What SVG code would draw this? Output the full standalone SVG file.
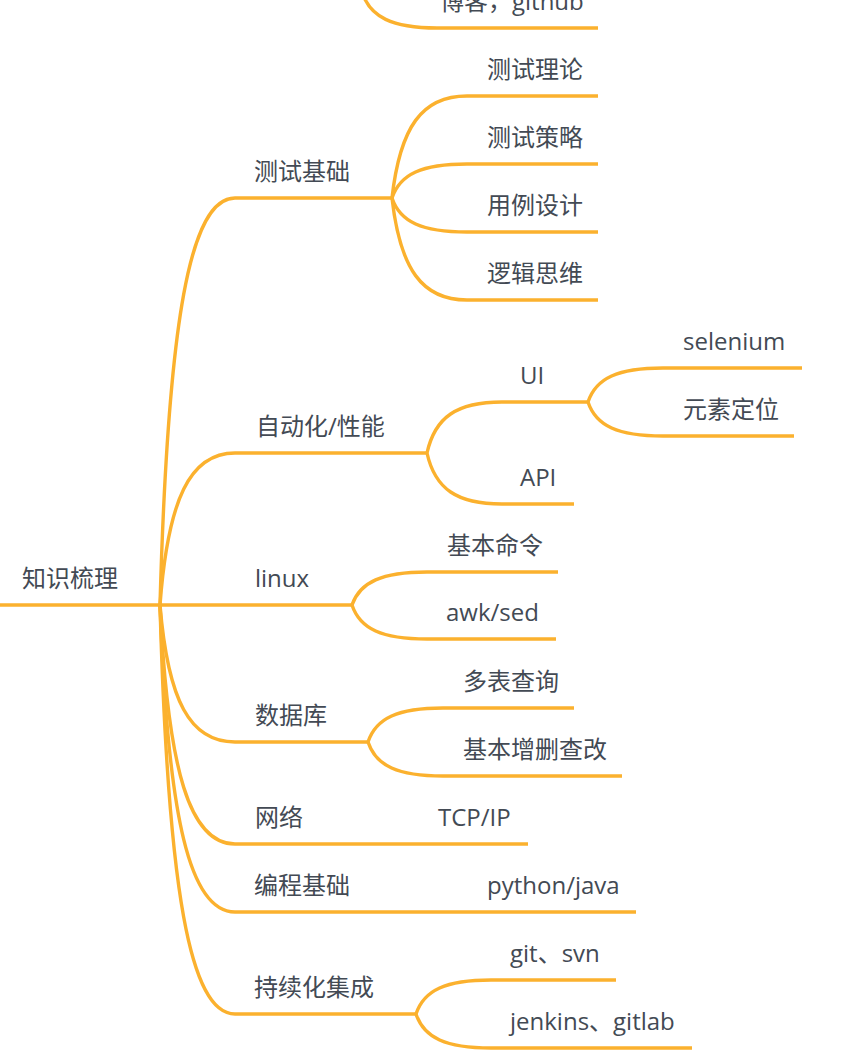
<svg xmlns="http://www.w3.org/2000/svg" width="864" height="1050" viewBox="0 0 864 1050">
<style>
  .ln { fill: none; stroke: #FBB12E; stroke-width: 3.4; }
  .t { font-family: "Open Sans", "Noto Sans CJK SC", sans-serif; font-size: 24px; fill: #434A54; }
</style>
<rect width="864" height="1050" fill="#FFFFFF"/>
<g id="connectors">
  <path class="ln" d="M362,-8 C370,17 392,28 437,28 H598"/>
  <path class="ln" d="M0,605 H352"/>
  <path class="ln" d="M160,605 C168,320 190,198 235,198 H392"/>
  <path class="ln" d="M160,605 C168,499 190,453 235,453 H427"/>
  <path class="ln" d="M160,605 C168,701 190,742 235,742 H368"/>
  <path class="ln" d="M160,605 C168,772 190,844 235,844 H528"/>
  <path class="ln" d="M160,605 C168,820 190,912 235,912 H636"/>
  <path class="ln" d="M160,605 C168,891 190,1014 235,1014 H416"/>
  <path class="ln" d="M392,198 C400,127 422,96 467,96 H598"/>
  <path class="ln" d="M392,198 C400,174 422,164 467,164 H598"/>
  <path class="ln" d="M392,198 C400,222 422,232 467,232 H598"/>
  <path class="ln" d="M392,198 C400,269 422,300 467,300 H598"/>
  <path class="ln" d="M427,453 C435,417 457,402 502,402 H588"/>
  <path class="ln" d="M427,453 C435,489 457,504 502,504 H574"/>
  <path class="ln" d="M588,402 C596,378 618,368 663,368 H802"/>
  <path class="ln" d="M588,402 C596,426 618,436 663,436 H794"/>
  <path class="ln" d="M352,605 C360,582 382,572 427,572 H558"/>
  <path class="ln" d="M352,605 C360,629 382,639 427,639 H556"/>
  <path class="ln" d="M368,742 C376,718 398,708 443,708 H574"/>
  <path class="ln" d="M368,742 C376,766 398,776 443,776 H622"/>
  <path class="ln" d="M416,1014 C424,990 446,980 491,980 H616"/>
  <path class="ln" d="M416,1014 C424,1038 446,1048 491,1048 H692"/>
</g>
<g id="node-blog"><text class="t" x="440" y="10">博客，github</text></g>
<g id="node-root"><text class="t" x="22" y="587">知识梳理</text></g>
<g id="node-test-basics"><text class="t" x="254" y="180">测试基础</text></g>
<g id="node-theory"><text class="t" x="487" y="78">测试理论</text></g>
<g id="node-strategy"><text class="t" x="487" y="146">测试策略</text></g>
<g id="node-case-design"><text class="t" x="487" y="214">用例设计</text></g>
<g id="node-logic"><text class="t" x="487" y="282">逻辑思维</text></g>
<g id="node-automation"><text class="t" x="256" y="435">自动化/性能</text></g>
<g id="node-ui"><text class="t" x="520" y="384">UI</text></g>
<g id="node-api"><text class="t" x="520" y="486">API</text></g>
<g id="node-selenium"><text class="t" x="683" y="350">selenium</text></g>
<g id="node-locate"><text class="t" x="683" y="418">元素定位</text></g>
<g id="node-linux"><text class="t" x="255" y="587">linux</text></g>
<g id="node-basic-cmd"><text class="t" x="447" y="554">基本命令</text></g>
<g id="node-awk"><text class="t" x="446" y="621">awk/sed</text></g>
<g id="node-db"><text class="t" x="255" y="724">数据库</text></g>
<g id="node-multi-table"><text class="t" x="463" y="690">多表查询</text></g>
<g id="node-crud"><text class="t" x="463" y="758">基本增删查改</text></g>
<g id="node-network"><text class="t" x="255" y="826">网络</text></g>
<g id="node-tcpip"><text class="t" x="438" y="826">TCP/IP</text></g>
<g id="node-programming"><text class="t" x="254" y="894">编程基础</text></g>
<g id="node-python"><text class="t" x="487" y="894">python/java</text></g>
<g id="node-ci"><text class="t" x="254" y="996">持续化集成</text></g>
<g id="node-git"><text class="t" x="510" y="962">git、svn</text></g>
<g id="node-jenkins"><text class="t" x="510" y="1030">jenkins、gitlab</text></g>
</svg>
